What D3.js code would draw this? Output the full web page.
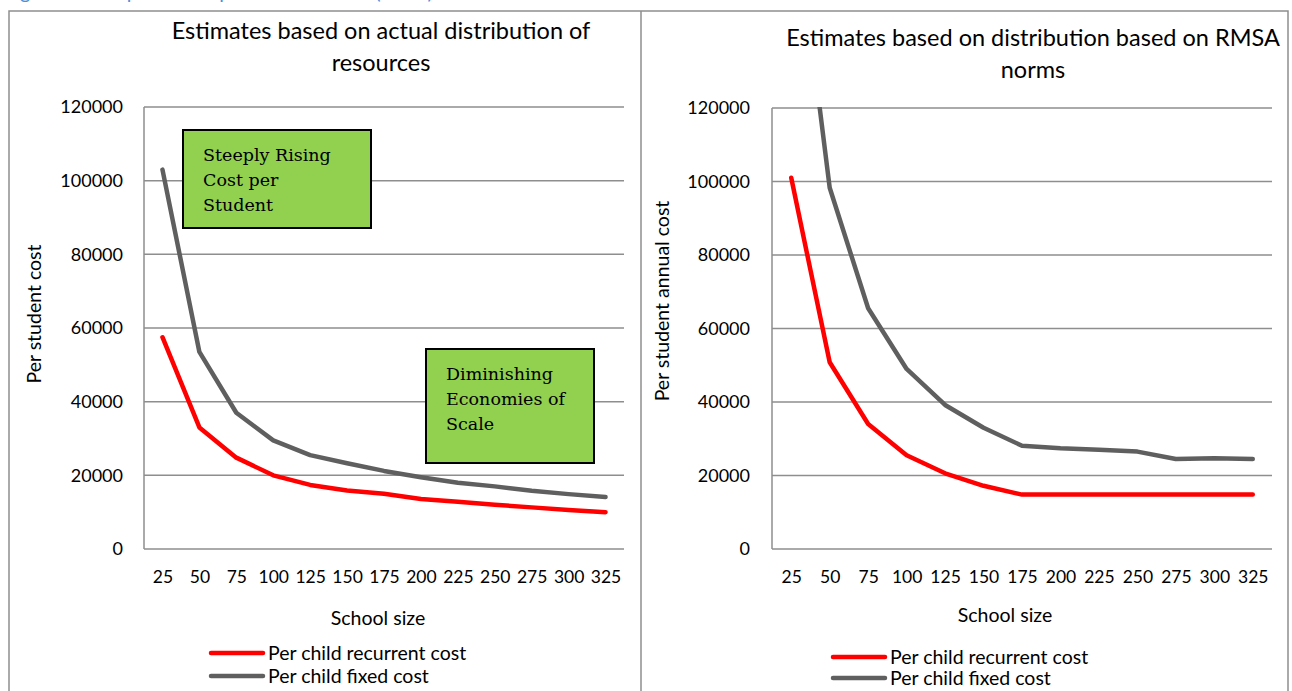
<!DOCTYPE html>
<html>
<head>
<meta charset="utf-8">
<script src="https://cdn.jsdelivr.net/npm/d3@7/dist/d3.min.js"></script>
<style>
  html, body { margin: 0; padding: 0; background: #fff; }
  svg { display: block; }
  text { font-family: Lato, "Open Sans", sans-serif; fill: #000; }
  .note { font-family: "DejaVu Serif", "Liberation Serif", serif; }
</style>
</head>
<body>
<svg id="chart" width="1292" height="691"></svg>
<script>
// School sizes on the category axis
const schoolSizes = [25, 50, 75, 100, 125, 150, 175, 200, 225, 250, 275, 300, 325];
const yTicks = [0, 20000, 40000, 60000, 80000, 100000, 120000];

// Panel A: actual distribution of resources
const actualRecurrent = [57500, 33000, 24800, 20000, 17400, 15900, 15000, 13600, 12800, 12000, 11300, 10600, 10000];
const actualFixed     = [103000, 53500, 37000, 29500, 25500, 23300, 21200, 19500, 18000, 17000, 15800, 14900, 14100];

// Panel B: distribution based on RMSA norms
const normRecurrent = [101000, 50800, 34000, 25500, 20600, 17200, 14800, 14800, 14800, 14800, 14800, 14800, 14800];
const normFixed     = [182000, 98300, 65500, 49000, 39200, 33000, 28100, 27400, 27000, 26500, 24500, 24700, 24500];

const seriesNames = ["Per child recurrent cost", "Per child fixed cost"];
const seriesColors = ["#ff0000", "#5f5f5f"];

const svg = d3.select("#chart");
const gridColor = "#8e8e8e";

// Caption above the panels (runs off the top of the page)
svg.append("text")
  .attr("x", 4).attr("y", -1)
  .style("font-size", "20px").style("fill", "#4f8fd6")
  .text("Figure 3: Comparison of per student costs (in Rs.)");

// Outer frames of the two panels
const frame = svg.append("g").attr("fill", "none").attr("stroke", gridColor).attr("stroke-width", 1.5);
frame.append("path").attr("d", "M9,700 V11 H1288 V700");
frame.append("line").attr("x1", 641).attr("x2", 641).attr("y1", 11).attr("y2", 700);

function panel(cfg) {
  const x = d3.scalePoint().domain(schoolSizes).range([cfg.x0, cfg.x1]).padding(0.5);
  const y = d3.scaleLinear().domain([0, 120000]).range([cfg.y0, cfg.y1]);
  const g = svg.append("g");

  // horizontal gridlines
  g.append("g").selectAll("line").data(yTicks).join("line")
    .attr("x1", cfg.x0).attr("x2", cfg.x1)
    .attr("y1", d => y(d)).attr("y2", d => y(d))
    .attr("stroke", gridColor).attr("stroke-width", 1.5);

  // vertical axis line
  g.append("line").attr("x1", cfg.x0).attr("x2", cfg.x0)
    .attr("y1", y(0)).attr("y2", y(120000))
    .attr("stroke", gridColor).attr("stroke-width", 1.5);

  // y tick labels
  const yAxis = d3.axisLeft(y).tickValues(yTicks).tickSize(0).tickPadding(0).tickFormat(d3.format("d"));
  const ya = g.append("g").attr("transform", `translate(${cfg.yLabelX},0)`).call(yAxis);
  ya.select(".domain").remove();
  ya.selectAll("text").style("font-size", "18px").style("font-family", "Lato, sans-serif").attr("fill", "#000");

  // x tick labels
  const xAxis = d3.axisBottom(x).tickSize(0).tickPadding(0);
  const xa = g.append("g").attr("transform", `translate(0,${cfg.xLabelY})`).call(xAxis);
  xa.select(".domain").remove();
  xa.selectAll("text").style("font-size", "17.5px").style("font-family", "Lato, sans-serif").attr("fill", "#000");

  // clip region for series lines
  const clipId = "clip" + cfg.id;
  svg.append("clipPath").attr("id", clipId).append("rect")
    .attr("x", cfg.x0).attr("y", y(120000) - 1)
    .attr("width", cfg.x1 - cfg.x0).attr("height", y(0) - y(120000) + 2);

  const line = d3.line().x((d, i) => x(schoolSizes[i])).y(d => y(d));
  const lines = g.append("g").attr("clip-path", `url(#${clipId})`);
  [cfg.fixed, cfg.recurrent].forEach((s, k) => {
    lines.append("path").datum(s)
      .attr("d", line)
      .attr("fill", "none")
      .attr("stroke", k === 0 ? seriesColors[1] : seriesColors[0])
      .attr("stroke-width", 4.5)
      .attr("stroke-linecap", "round")
      .attr("stroke-linejoin", "round");
  });

  // chart title
  const t = g.append("text").attr("text-anchor", "middle").style("font-size", "23.5px");
  cfg.title.forEach((s, i) => {
    t.append("tspan").attr("x", cfg.titleX).attr("y", cfg.titleY + i * 32).text(s);
  });

  // axis titles
  g.append("text").attr("text-anchor", "middle").style("font-size", "19.5px")
    .attr("x", cfg.xTitleX).attr("y", cfg.xTitleY).text("School size");
  g.append("text").attr("text-anchor", "middle").style("font-size", "19.5px")
    .attr("transform", `translate(${cfg.yTitleX},${cfg.yTitleY}) rotate(-90)`)
    .text(cfg.yTitle);

  // legend
  seriesNames.forEach((name, i) => {
    const ly = cfg.legendY + i * cfg.legendGap;
    g.append("line").attr("x1", cfg.legendX).attr("x2", cfg.legendX + 52)
      .attr("y1", ly).attr("y2", ly)
      .attr("stroke", seriesColors[i]).attr("stroke-width", 4.5).attr("stroke-linecap", "round");
    g.append("text").attr("x", cfg.legendX + 57).attr("y", ly).attr("dy", "0.35em")
      .style("font-size", "19.5px").text(name);
  });
  return { x, y, g };
}

const left = panel({
  id: "A", x0: 144, x1: 624, y0: 549, y1: 107,
  yLabelX: 123, xLabelY: 571,
  recurrent: actualRecurrent, fixed: actualFixed,
  title: ["Estimates based on actual distribution of", "resources"], titleX: 381, titleY: 39,
  xTitleX: 378, xTitleY: 625, yTitleX: 41, yTitleY: 314, yTitle: "Per student cost",
  legendX: 211, legendY: 653, legendGap: 23
});

const right = panel({
  id: "B", x0: 772, x1: 1272, y0: 549, y1: 108,
  yLabelX: 750, xLabelY: 571,
  recurrent: normRecurrent, fixed: normFixed,
  title: ["Estimates based on distribution based on RMSA", "norms"], titleX: 1033, titleY: 46,
  xTitleX: 1005, xTitleY: 622, yTitleX: 669, yTitleY: 301, yTitle: "Per student annual cost",
  legendX: 833, legendY: 657, legendGap: 21
});

// Annotation boxes on the first panel
function noteBox(g, x0, y0, x1, y1, lines, tx, ty) {
  g.append("rect").attr("x", x0).attr("y", y0).attr("width", x1 - x0).attr("height", y1 - y0)
    .attr("fill", "#92d050").attr("stroke", "#000").attr("stroke-width", 2);
  const t = g.append("text").attr("class", "note").style("font-size", "17.5px");
  lines.forEach((s, i) => t.append("tspan").attr("x", tx).attr("y", ty + i * 25).text(s));
}
noteBox(left.g, 183, 130, 371, 228, ["Steeply Rising", "Cost per", "Student"], 203, 161);
noteBox(left.g, 426, 349, 594, 463, ["Diminishing", "Economies of", "Scale"], 446, 380);
</script>
</body>
</html>
